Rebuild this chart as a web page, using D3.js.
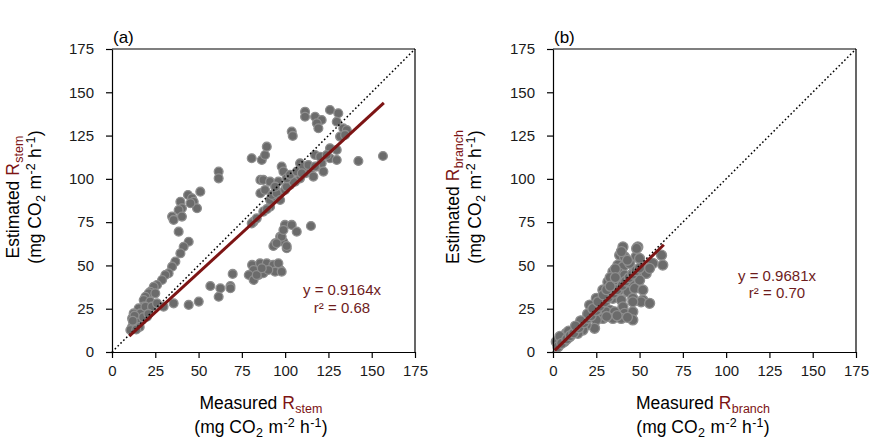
<!DOCTYPE html>
<html><head><meta charset="utf-8">
<script src="https://cdn.jsdelivr.net/npm/d3@7"></script>
<style>
body{margin:0;background:#fff;}
svg{display:block;font-family:"Liberation Sans",Arial,sans-serif;}
</style></head>
<body><svg id="c" width="884" height="439"></svg>
<script>
// ---- data ----
const tickValues = [0,25,50,75,100,125,150,175];
const panelLabels = ["(a)","(b)"];
const subscripts = ["stem","branch"];
const slopes = [0.9164, 0.9681];
const r2Labels = ["0.68","0.70"];
const fitRangeA = [10, 157];
const fitRangeB = [1, 64];

const stemPoints = [
 [61.6,104.2],[61.6,100.3],[51,92.6],[43.9,90.7],[46.2,88.8],[47.2,86.8],[49.1,83],[45.3,85.9],[39.5,86.8],[40.4,83],[38.5,82],[34.7,78.2],[35.6,76.3],[40.4,78.2],[38.5,69.5],[44.3,63.7],[41.4,60.8],[39.5,57],[36.6,52.2],[34.7,49.3],[32.7,45.5],[30.8,44.5],[28.9,41.6],[26,38.7],[24.1,37.7],[22.1,34.8],[21.2,33.9],[19.3,31.9],[18.3,30],
 [25,33.9],[22.1,29.1],[18.3,26.2],[15.4,25.2],[12.5,22.3],[11.6,19.4],[14.4,19.4],[16.4,22.3],[19.3,26.2],[23.1,26.2],[26,28.1],[13.5,16.6],[11.6,14.6],[10.6,12.7],[17.3,18.5],[20.2,20.4],[29.8,26.2],[35.6,28.1],[13,21],[15,17],[12,18],[16,14.5],[18,20],[21,22],[14,13],
 [44.3,27.2],[50.1,29.1],[56.8,38.1],[62.6,36.8],[61.6,31.9],[68.4,38.1],[68.4,36.8],[69.7,45.1],
 [80.9,50.3],[81.8,47.4],[79,44.5],[81.8,41.6],[84.7,44.5],[85.5,51.2],[89.4,51.2],[93.2,50.3],[97.1,47.4],[94.2,46.4],[87.4,45.5],[83.6,44.5],[90.3,47.4],[96.1,51.2],[98,46.4],[86.5,48.4],
 [94.2,62.8],[99,63.7],[100.9,59.9],[93.2,61.2],[97.1,66.6],[98,66.6],[95.1,62.8],[100.9,61.2],[99.9,73.4],[103.8,73.4],[99,70.5],[106.7,69.5],[114.9,72.8],
 [81.8,75.3],[80.7,74.3],[83.6,77.2],[87.4,81.1],[91.3,83.9],[89.4,82.5],[91.3,87.8],[94.2,89.7],[97.1,91.7],[99.9,93.6],[102.8,96.5],[105.7,98.4],[108.6,100.3],[111.5,103.2],[114.4,105.1],[118.3,107.1],[121.1,109],[125.9,111.9],[129.8,116.7],[125.9,117.7],
 [85.7,99.4],[85.7,91.7],[87.4,99.4],[88.4,93.6],[91.3,98.4],[92.3,90.7],[95.1,91.7],[97.1,87.8],[100.9,95.5],[104.8,98.4],[96.1,98.4],[94.2,95.5],[98,107.1],[99,104.2],[100.9,100.3],[102.8,102.3],[106.7,104.2],[108.6,109],[110.5,107.1],[113.4,108],[117.3,107.1],[122.1,104.2],[117.3,113.8],[120.2,112.8],[124,113.8],[129.8,110.9],[142.3,110.3],[156.5,113.2],[116.3,101.3],[109.6,103.2],
 [80.7,111.9],[86.5,110.9],[88.4,113.8],[89.4,118.6],[103.8,127.3],[104.4,124.8],[111.5,138.8],[111.5,135.9],[117.3,135.9],[121.1,134],[118.3,132.1],[119.2,129.2],[125.9,139.8],[130.7,137.9],[129.8,133],[133.6,129.2],[135.6,128.2],[131.7,124.4],[134.6,125.4]
];

const branchPoints = [
 [40.4,60.7],[49,60.7],[38.5,55.9],[41.3,55],[48,55],[50,54],[37.5,50.2],[40.4,49.2],[44.2,51.2],[57.7,51.2],[62.7,55.9],[63.4,50.2],[48.3,59.8],[39.5,58],[43,53],
 [34.6,46.3],[38.5,45.4],[41.3,44.4],[46.1,45.4],[51.9,46.3],[53.8,45.4],[55.8,48.3],[31.7,40.5],[36.5,41.5],[40.4,39.6],[44.2,40.5],[50,41.5],[36,48],[33,43],
 [28.8,35.8],[33.6,36.7],[38.5,35.8],[43.3,34.8],[47.1,36.7],[51.9,35.8],[25,31],[29.8,30],[34.6,31],[39.4,30],[46.1,31],[51.9,30],[50.9,29],[55.8,28.1],
 [21.2,27.1],[26.9,26.1],[32.7,24.2],[40.4,26.1],[46.1,29],[41.3,22.3],[46.1,23.2],[30.7,23.2],[35.6,23.2],[39.4,19.4],[46.1,18.5],[28.8,19.4],[34.6,19.4],[25,18.5],[24,13.7],[43,20],[37,21],[31,20.5],
 [19.2,15.6],[17.3,12.7],[14.4,10.8],[11.5,11.7],[9.6,8.8],[7.7,10.8],[5.8,8.8],[3.9,6.9],[1.9,5.9],[2.9,3.1],[6.5,6],[4,9],[9,12],
 [5,5],[8,7.5],[10,9.5],[12,11],[15,14],[18,17],[20,19.5],[22,21],[25,24],[27,26.5],[30,29],[32,31.5],[35,34],[37,36],[40,38.5],[42,41],[44,43],[46,45],[48,47],[50,48.5],
 [20,22],[23,25],[26,29],[29,33],[31,36],[33,38],[36,43],[16,18],[13,15]
];

// ---- drawing ----
const svg = d3.select("#c");
const RED = "#7d1414";
const panels = [
  {left:112, top:49, size:303, pts:stemPoints, r:4.4, fit:fitRangeA, eq:[342,295,313], yl:[19,41], xl:261},
  {left:553, top:49, size:303, pts:branchPoints, r:5, fit:fitRangeB, eq:[777,281,298], yl:[459,481], xl:703}
];

panels.forEach((p,i)=>{
  const x = d3.scaleLinear().domain([0,175]).range([p.left, p.left+p.size]);
  const y = d3.scaleLinear().domain([0,175]).range([p.top+p.size, p.top]);
  const g = svg.append("g");

  g.append("line").attr("x1",x(0)).attr("x2",x(175)).attr("y1",y(175)).attr("y2",y(175)).attr("stroke","#000").attr("stroke-width",1.2);
  g.append("line").attr("x1",x(175)).attr("x2",x(175)).attr("y1",y(0)).attr("y2",y(175)).attr("stroke","#000").attr("stroke-width",1.2);

  g.append("g").selectAll("circle").data(p.pts).join("circle")
    .attr("cx",d=>x(d[0])).attr("cy",d=>y(d[1])).attr("r",p.r)
    .attr("fill","#6b6b6b").attr("stroke","#8e8e8e").attr("stroke-width",1.3);

  g.append("line").attr("x1",x(0)).attr("y1",y(0)).attr("x2",x(175)).attr("y2",y(175))
    .attr("stroke","#000").attr("stroke-width",1.5).attr("stroke-dasharray","1.6,2.4");

  g.append("line").attr("x1",x(p.fit[0])).attr("y1",y(p.fit[0]*slopes[i]))
    .attr("x2",x(p.fit[1])).attr("y2",y(p.fit[1]*slopes[i]))
    .attr("stroke",RED).attr("stroke-width",3);

  const ax = g.append("g").attr("transform",`translate(0,${y(0)})`)
    .call(d3.axisBottom(x).tickValues(tickValues).tickSize(6).tickPadding(7).tickSizeOuter(0));
  const ay = g.append("g").attr("transform",`translate(${x(0)},0)`)
    .call(d3.axisLeft(y).tickValues(tickValues).tickSize(6).tickPadding(12).tickSizeOuter(0));
  [ax,ay].forEach(a=>{
    a.selectAll("path,line").attr("stroke","#000").attr("stroke-width",1.2);
    a.selectAll("text").attr("font-size","15px").attr("fill","#1a1a1a").attr("font-family","Liberation Sans, Arial, sans-serif");
  });

  g.append("text").attr("x",p.left+1).attr("y",43).attr("font-size","17px").attr("fill","#000").text(panelLabels[i]);

  const eq = g.append("g").attr("fill","#6e1c1c").attr("font-size","15px").attr("text-anchor","middle");
  eq.append("text").attr("x",p.eq[0]).attr("y",p.eq[1]).text(`y = ${slopes[i].toFixed(4)}x`);
  eq.append("text").attr("x",p.eq[0]).attr("y",p.eq[2]).text(`r² = ${r2Labels[i]}`);

  const xt1 = g.append("text").attr("x",p.xl).attr("y",409).attr("text-anchor","middle").attr("font-size","17.5px").attr("fill","#000");
  xt1.append("tspan").text("Measured ");
  xt1.append("tspan").attr("fill",RED).text("R");
  xt1.append("tspan").attr("fill",RED).attr("font-size","12.5px").attr("dy",3.5).attr("dx",0.5).text(subscripts[i]);
  unitLine(g.append("text").attr("x",p.xl).attr("y",433).attr("text-anchor","middle"));

  const cy = 197;
  const yt1 = g.append("text").attr("transform",`translate(${p.yl[0]},${cy}) rotate(-90)`).attr("text-anchor","middle").attr("font-size","17.5px").attr("fill","#000");
  yt1.append("tspan").text("Estimated ");
  yt1.append("tspan").attr("fill",RED).text("R");
  yt1.append("tspan").attr("fill",RED).attr("font-size","12.5px").attr("dy",3.5).attr("dx",0.5).text(subscripts[i]);
  unitLine(g.append("text").attr("transform",`translate(${p.yl[1]},${cy}) rotate(-90)`).attr("text-anchor","middle"));
});

function unitLine(t){
  t.attr("font-size","17.5px").attr("fill","#000");
  t.append("tspan").text("(mg CO");
  t.append("tspan").attr("font-size","12.5px").attr("dy",4).attr("dx",0.5).text("2");
  t.append("tspan").attr("dy",-4).attr("dx",0.5).text(" m");
  t.append("tspan").attr("font-size","12.5px").attr("dy",-6).attr("dx",0.5).text("-2");
  t.append("tspan").attr("dy",6).attr("dx",0.5).text(" h");
  t.append("tspan").attr("font-size","12.5px").attr("dy",-6).attr("dx",0.5).text("-1");
  t.append("tspan").attr("dy",6).attr("dx",0.5).text(")");
}
</script></body></html>
